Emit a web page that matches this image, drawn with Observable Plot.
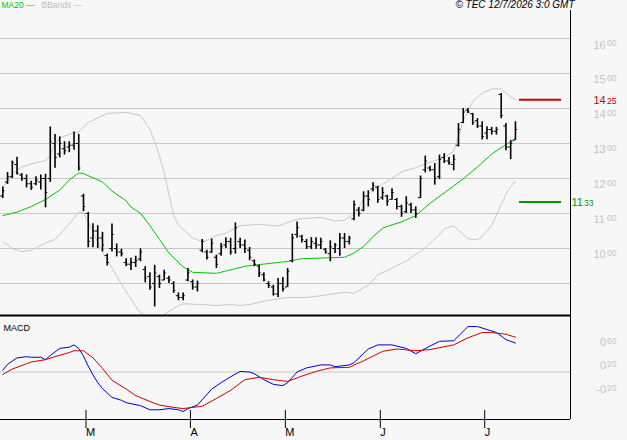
<!DOCTYPE html>
<html><head><meta charset="utf-8">
<script src="https://cdn.jsdelivr.net/npm/d3@7"></script>
<script src="https://cdn.jsdelivr.net/npm/@observablehq/plot@0.6"></script>
<style>
html,body{margin:0;padding:0;background:#f7f7f7;}
#chart{width:627px;height:440px;overflow:hidden;background:#f7f7f7;}
#chart svg{display:block;}
</style></head><body><div id="chart"></div>
<script>
// ---- data (daily bars, index 0 = first bar) ----
const highs = [1176,1217,1250,1261,1214,1210,1192,1205,1210,1212,
1347,1326,1319,1305,1305,1333,1326,1155,1103,1071,
1065,1046,984,1070,1013,998,971,972,978,999,
948,931,952,924,938,921,905,873,873,943,
910,907,1026,995,1027,981,1014,1031,1029,1073,
1029,1024,1003,967,952,931,905,895,914,917,
943,1041,1076,1038,1026,1031,1031,1029,1000,1022,
1014,1043,1043,1035,1136,1117,1162,1165,1188,1178,
1174,1152,1171,1143,1124,1148,1129,1119,1207,1264,
1235,1243,1267,1271,1260,1267,1357,1400,1400,1386,
1371,1362,1348,1346,1346,1443,1357,1309,1362];
const lows = [1143,1183,1200,1210,1192,1173,1166,1179,1167,1116,
1189,1229,1259,1267,1274,1281,1221,1105,1002,1002,
1000,990,950,990,976,976,948,937,946,962,
902,881,833,886,908,900,872,851,851,905,
881,876,988,967,986,943,978,1000,981,984,
1000,986,965,948,917,905,886,864,860,876,
889,959,1029,1016,997,997,997,997,984,962,
986,978,1000,1010,1079,1090,1105,1119,1162,1129,
1138,1121,1138,1110,1089,1100,1100,1086,1143,1216,
1219,1181,1197,1243,1238,1222,1290,1357,1386,1352,
1343,1310,1311,1324,1324,1371,1279,1254,1309];
const opens = [1150,1190,1205,1240,1210,1200,1185,1185,1190,1200,
1200,1300,1270,1285,1290,1295,1300,1150,1100,1030,
1050,1030,980,1000,1000,990,960,955,960,970,
940,920,900,920,910,915,900,865,860,910,
905,890,995,990,990,975,985,1010,1020,1000,
1020,1010,995,965,950,925,900,890,870,900,
890,965,1040,1035,1020,1005,1015,1010,998,985,
1000,1000,1030,1020,1085,1110,1110,1150,1170,1175,
1145,1150,1140,1140,1120,1105,1125,1110,1145,1225,
1230,1225,1205,1260,1250,1240,1295,1360,1395,1385,
1365,1350,1330,1340,1335,1440,1350,1290,1310];
const closes = [1165,1205,1245,1215,1200,1185,1175,1195,1200,1160,
1305,1260,1300,1280,1295,1300,1230,1120,1020,1050,
1030,1010,960,1040,990,985,955,960,965,990,
915,890,930,900,930,910,880,860,865,930,
890,900,1020,975,1015,955,1005,1020,990,1060,
1010,1000,975,955,930,910,895,870,900,885,
935,1030,1060,1025,1005,1020,1010,1020,990,1005,
1010,1030,1020,1030,1125,1100,1150,1140,1180,1140,
1160,1135,1160,1120,1100,1130,1110,1100,1200,1250,
1225,1200,1255,1250,1245,1255,1340,1390,1390,1360,
1350,1320,1340,1335,1340,1380,1290,1300,1340];

const maIdx = [0,3,6,9,12,14,16,17,21,23,26,27,29,31,33,35,38,40,45,48,51,54,60,63,68,72,74,76,78,80,81,84,87,90,95,97,100,103,106,108];
const maVal = [1094,1104,1120,1140,1167,1196,1216,1214,1190,1164,1136,1118,1101,1065,1026,987,947,932,929,939,949,954,963,971,973,975,987,1006,1034,1058,1063,1076,1094,1129,1179,1199,1233,1270,1297,1312];

const upIdx = [0,1,2,4,6,9,10,11,12,15,16,18,22,26,29,31,32,33,34,35,36,37,40,42,43,45,47,49,50,54,58,60,62,67,70,72,74,76,77,79,81,84,87,91,93,95,96,97,99,101,103,105,107,108];
const upVal = [1175,1192,1214,1233,1242,1251,1266,1300,1316,1331,1333,1360,1386,1389,1380,1340,1305,1265,1215,1155,1095,1066,1030,1020,1023,1037,1044,1058,1065,1069,1064,1074,1084,1089,1078,1081,1098,1140,1156,1175,1192,1219,1231,1251,1261,1278,1320,1365,1420,1444,1456,1456,1433,1425];

const loIdx = [0,2,4,6,9,11,14,16,17,18,21,23,25,27,29,32,34,37,38,42,45,48,50,52,56,60,64,68,72,74,76,77,79,81,85,89,92,93,95,97,98,100,101,103,104,106,107,108];
const loVal = [1020,1000,991,995,1016,1026,1070,1104,1102,1075,990,944,898,855,816,800,812,837,842,840,837,840,837,840,852,860,860,867,875,872,888,894,925,937,964,1002,1040,1056,1065,1040,1028,1025,1034,1066,1095,1155,1177,1192];

const macdIdx = [0,1,3,5,6,8,9,10,12,14,15,16,17,18,19,20,21,23,25,26,29,31,33,35,37,38,39,41,42,44,46,48,50,52,53,55,57,59,60,62,64,67,69,70,73,74,77,79,82,85,87,90,92,95,98,100,102,104,106,108];
const macdVal = [0.03,0.13,0.24,0.26,0.25,0.25,0.21,0.28,0.40,0.42,0.46,0.40,0.27,0.10,-0.05,-0.18,-0.28,-0.43,-0.48,-0.52,-0.57,-0.64,-0.64,-0.62,-0.64,-0.67,-0.62,-0.56,-0.47,-0.29,-0.18,-0.08,0.01,0.00,-0.03,-0.13,-0.21,-0.23,-0.18,0.00,0.07,0.12,0.12,0.09,0.12,0.16,0.39,0.46,0.46,0.40,0.31,0.44,0.52,0.53,0.77,0.77,0.72,0.67,0.55,0.49];

const sigIdx = [0,2,5,6,9,11,14,15,17,19,21,23,26,28,31,33,36,38,42,45,48,51,54,57,60,63,66,69,73,76,80,83,87,90,95,98,101,103,106,108];
const sigVal = [-0.04,0.05,0.14,0.17,0.21,0.26,0.33,0.36,0.36,0.24,0.06,-0.14,-0.29,-0.40,-0.50,-0.56,-0.60,-0.62,-0.58,-0.45,-0.31,-0.13,-0.09,-0.13,-0.16,-0.07,0.01,0.07,0.08,0.19,0.35,0.39,0.36,0.38,0.46,0.58,0.67,0.67,0.64,0.59];

const monthIdx = [17,39,59,79,101];
const monthLabels = ["M","A","M","J","J"];
const priceGrid = [900,1000,1100,1200,1300,1400,1500,1600];
const priceLabels = [1000,1100,1200,1300,1400,1500,1600];
const macdLabels = [0.6,0.2,-0.2];
const levelValues = [1425,1133];
const legendText = ["MA20 \u2014","BBands \u2014"];
const copyright = "\u00a9 TEC 12/7/2026 3:0 GMT";

// ---- build tables ----
const bars = highs.map((h,i)=>({i, high:h, low:lows[i], open:opens[i], close:closes[i]}));
const pts = (idx, val) => idx.map((i,k)=>({i, v:val[k]}));
const ma = pts(maIdx, maVal), up = pts(upIdx, upVal), lo = pts(loIdx, loVal);
const macd = pts(macdIdx, macdVal), sig = pts(sigIdx, sigVal);
const lastI = bars.length - 1;
const pLab = priceLabels.map(v => ({v, big: String(Math.floor(v/100)), small: "0" + String(v % 100).padStart(2,"0").slice(1) === "00" ? "00" : String(v % 100).padStart(2,"0")}));
const mLab = macdLabels.map(v => ({v, big: (v < 0 ? "-" : "") + "0", small: String(Math.round(Math.abs(v)*100)).padStart(2,"0")}));

// ---- styles ----
const FONT = "'Liberation Sans', Arial, sans-serif";
const GRID = "#c8c8c8", LABEL = "#c4c4c4";
const GREEN = "#00c800", RED = "#cc0000", DKGREEN = "#009900";
const xDomain = [-0.485, 119.6];
const pDomain = [811.4, 1600];
const mDomain = [-0.805, 0.941];
const levelStyle = [
  {color: RED, bigDx: 23, smallDx: 36.5},
  {color: DKGREEN, bigDx: 1, smallDx: 13.5}
];
const levels = levelValues.map((v,k)=>({v, big: String(Math.floor(v/100)), small: String(v % 100).padStart(2,"0"), ...levelStyle[k]}));
const xMax = xDomain[1];

const levelMarks = levels.flatMap(L => [
  Plot.ruleY([L], {y: "v", x1: () => lastI + 0.85, x2: () => lastI + 9.7, stroke: L.color, strokeWidth: 2}),
  Plot.text([L], {x: () => xMax, y: "v", text: "big", dx: L.bigDx, dy: 4.5, fill: L.color, fontSize: 11, textAnchor: "start", lineAnchor: "bottom"}),
  Plot.text([L], {x: () => xMax, y: "v", text: "small", dx: L.smallDx, dy: 3.8, fill: L.color, fontSize: 8.5, textAnchor: "start", lineAnchor: "bottom"})
]);

const price = Plot.plot({
  width: 627, height: 316,
  marginTop: 38, marginBottom: 2, marginLeft: 0, marginRight: 57,
  x: {domain: xDomain, axis: null},
  y: {domain: pDomain, axis: null},
  style: {background: "transparent", overflow: "visible", fontFamily: FONT},
  marks: [
    Plot.ruleY(priceGrid, {stroke: GRID, strokeWidth: 1}),
    Plot.line(up, {x: "i", y: "v", stroke: "#c8c8c8", strokeWidth: 1, clip: true}),
    Plot.line(lo, {x: "i", y: "v", stroke: "#c8c8c8", strokeWidth: 1, clip: true}),
    Plot.line(ma, {x: "i", y: "v", stroke: GREEN, strokeWidth: 1}),
    Plot.ruleX(bars, {x: "i", y1: "low", y2: "high", stroke: "#000", strokeWidth: 1.6}),
    Plot.ruleY(bars, {y: "open", x1: d => d.i - 0.45, x2: "i", stroke: "#000", strokeWidth: 1}),
    Plot.ruleY(bars, {y: "close", x1: "i", x2: d => d.i + 0.45, stroke: "#000", strokeWidth: 1}),
    ...levelMarks,
    // right axis labels (big part / small part)
    Plot.text(pLab, {x: () => xMax, y: "v", text: "big", dx: 23, dy: 10, fill: LABEL, fontSize: 11, textAnchor: "start", lineAnchor: "bottom"}),
    Plot.text(pLab, {x: () => xMax, y: "v", text: "small", dx: 36.5, dy: 7.7, fill: LABEL, fontSize: 8.5, textAnchor: "start", lineAnchor: "bottom"}),
    // frame lines
    Plot.ruleY([pDomain[0]], {stroke: "#000", strokeWidth: 2, dy: 1}),
    Plot.ruleX([xMax], {y1: 1680, y2: 805.7, stroke: "#000", strokeWidth: 1}),
    // header
    Plot.text([legendText[0]], {frameAnchor: "top-left", dx: 1, dy: -30.5, lineAnchor: "bottom", textAnchor: "start", fill: GREEN, fontSize: 8.5}),
    Plot.text([legendText[1]], {frameAnchor: "top-left", dx: 41, dy: -30.5, lineAnchor: "bottom", textAnchor: "start", fill: "#c0c0c0", fontSize: 8.5}),
    Plot.text([copyright], {frameAnchor: "top-right", dx: 4, dy: -30.5, lineAnchor: "bottom", textAnchor: "end", fill: "#000", fontSize: 10, fontStyle: "italic"})
  ]
});

const macdPlot = Plot.plot({
  width: 627, height: 124,
  marginTop: 0, marginBottom: 21, marginLeft: 0, marginRight: 57,
  x: {domain: xDomain, axis: null},
  y: {domain: mDomain, axis: null},
  style: {background: "transparent", overflow: "visible", fontFamily: FONT},
  marks: [
    Plot.ruleY([0], {stroke: GRID, strokeWidth: 1}),
    Plot.line(macd, {x: "i", y: "v", stroke: "#0000cc", strokeWidth: 1}),
    Plot.line(sig, {x: "i", y: "v", stroke: "#cc0000", strokeWidth: 1}),
    Plot.text(mLab, {x: () => xMax, y: "v", text: "big", dx: 35.5, dy: 9, fill: LABEL, fontSize: 11, textAnchor: "end", lineAnchor: "bottom"}),
    Plot.text(mLab, {x: () => xMax, y: "v", text: "small", dx: 36.5, dy: 7, fill: LABEL, fontSize: 8.5, textAnchor: "start", lineAnchor: "bottom"}),
    Plot.text(["MACD"], {frameAnchor: "top-left", dx: 3, dy: 14.5, lineAnchor: "bottom", textAnchor: "start", fill: "#000", fontSize: 9}),
    Plot.ruleY([mDomain[0]], {stroke: "#000", strokeWidth: 1}),
    Plot.ruleX([xMax], {stroke: "#000", strokeWidth: 1}),
    Plot.axisX(monthIdx, {label: null, tickSize: 18, tickPadding: 0, dy: -9, dx: 2.5, textAnchor: "start", tickFormat: d => monthLabels[monthIdx.indexOf(d)], fontSize: 11, fill: "#000", stroke: "#000"})
  ]
});

document.getElementById("chart").append(price, macdPlot);
</script></body></html>
